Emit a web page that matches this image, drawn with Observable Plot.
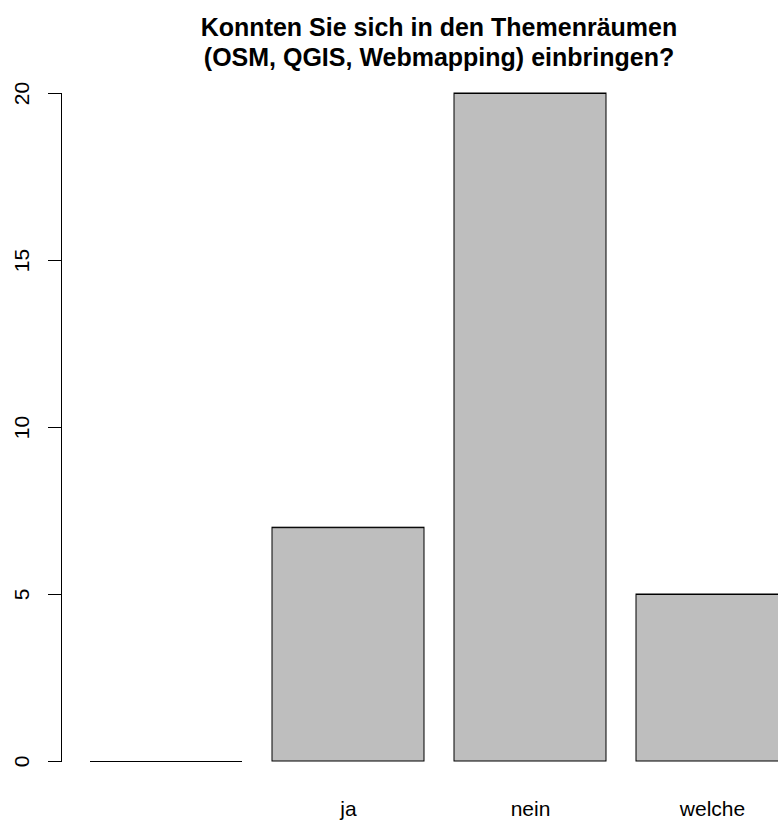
<!DOCTYPE html>
<html>
<head>
<meta charset="utf-8">
<script src="https://cdn.jsdelivr.net/npm/d3@7"></script>
<script src="https://cdn.jsdelivr.net/npm/@observablehq/plot@0.6"></script>
<style>
  html, body { margin: 0; padding: 0; background: white; }
</style>
</head>
<body>
<div id="chart"></div>
<script>
const categories = ["", "ja", "nein", "welche"];
const counts = [0, 7, 20, 5];
const yTicks = [0, 5, 10, 15, 20];
const titleLines = ["Konnten Sie sich in den Themenräumen", "(OSM, QGIS, Webmapping) einbringen?"];

const data = categories.map((c, i) => ({cat: c, n: counts[i]}));
const font = "'Liberation Sans', Arial, Helvetica, sans-serif";

const chart = Plot.plot({
  width: 778,
  height: 825,
  marginTop: 93,
  marginBottom: 64,
  marginLeft: 61,
  marginRight: 0,
  style: {fontFamily: font, fontSize: "21px", background: "white", color: "black", overflow: "visible"},
  x: {type: "band", domain: categories, range: [89, 788.2], paddingInner: 1/6, paddingOuter: 0, align: 0.5},
  y: {domain: [0, 20]},
  marks: [
    Plot.barY(data, {x: "cat", y: "n", fill: "#bebebe", stroke: "black", strokeWidth: 1}),
    Plot.tickY(data, {x: "cat", y: "n", stroke: "black", strokeWidth: 1}),
    Plot.frame({anchor: "left", stroke: "black"}),
    Plot.axisY({ticks: yTicks, tickSize: 13, tickFormat: () => "", label: null, stroke: "black"}),
    Plot.text(yTicks, {y: d => d, text: d => String(d), frameAnchor: "left", dx: -39, rotate: -90, textAnchor: "middle", lineAnchor: "middle", fontSize: 21, fill: "black"}),
    Plot.axisX({tickSize: 0, tickPadding: 40, label: null, fontSize: 21, fill: "black"}),
    Plot.text([titleLines.join("\n")], {frameAnchor: "top", dx: 19, dy: -78.5, fontSize: 25, fontWeight: "bold", lineAnchor: "top", lineHeight: 1.2, fill: "black"})
  ]
});
document.getElementById("chart").appendChild(chart);
</script>
</body>
</html>
